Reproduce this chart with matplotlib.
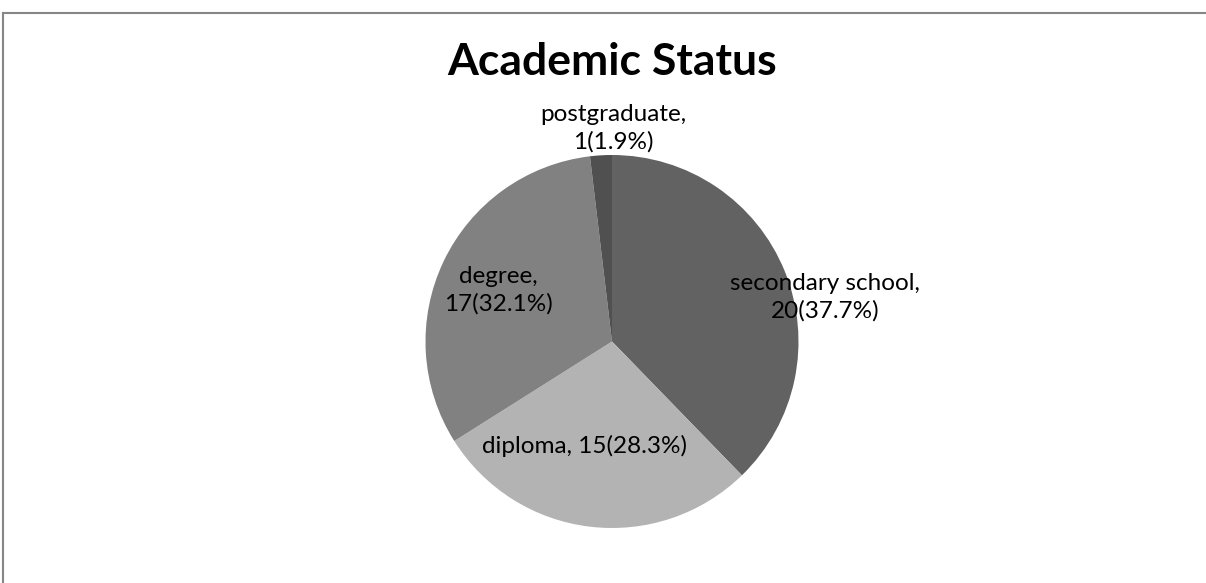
import matplotlib.pyplot as plt
from matplotlib.lines import Line2D

# Data
categories = ['secondary school', 'diploma', 'degree', 'postgraduate']
counts = [20, 15, 17, 1]
colors = ['#626262', '#b3b3b3', '#818181', '#505050']

# label centres relative to the pie centre, in pie radii (layout only)
label_pos = [(1.142, 0.239), (-0.145, -0.560), (-0.611, 0.276), (0.005, 1.145)]
label_wrap = [True, False, True, True]

W, H = 1206, 583
fig = plt.figure(figsize=(W / 100, H / 100), dpi=100)
plt.rcParams['font.family'] = ['Lato', 'DejaVu Sans']

# pie centre (612, 341.5) px, radius 186.5 px
cx, cy, r = 612, 341.5, 186.5
ax = fig.add_axes([(cx - r) / W, (H - cy - r) / H, 2 * r / W, 2 * r / H])
ax.pie(counts, colors=colors, startangle=90, counterclock=False,
       wedgeprops=dict(linewidth=0), radius=1)
ax.set_xlim(-1, 1)
ax.set_ylim(-1, 1)
ax.set_aspect('equal')
ax.axis('off')

total = sum(counts)
for name, n, (lx, ly), wrap in zip(categories, counts, label_pos, label_wrap):
    pct = f'{n}({100 * n / total:.1f}%)'
    txt = f'{name},\n{pct}' if wrap else f'{name}, {pct}'
    ax.text(lx, ly, txt, ha='center', va='center', fontsize=17.5,
            color='black', linespacing=1.35, clip_on=False)

fig.text(cx / W, 1 - 62 / H, 'Academic Status', ha='center', va='center',
         fontsize=32, fontweight='bold')

# chart border (only top and left visible)
fig.add_artist(Line2D([3.5 / W, 1], [1 - 12.5 / H, 1 - 12.5 / H],
                      transform=fig.transFigure, color='#868686', lw=1.5))
fig.add_artist(Line2D([3.5 / W, 3.5 / W], [0, 1 - 12.5 / H],
                      transform=fig.transFigure, color='#868686', lw=1.5))

fig.savefig('out.png', dpi=100)
